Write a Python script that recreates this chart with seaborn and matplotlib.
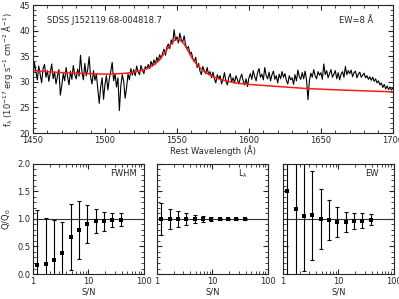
import numpy as np
import matplotlib
matplotlib.use("Agg")
import matplotlib.pyplot as plt
import seaborn as sns
from matplotlib.ticker import MultipleLocator, FixedLocator, NullFormatter

# -------------------------------
# Data
# -------------------------------
# spectrum, 1 A steps from 1450 to 1700
wave = list(range(1450, 1701))
flux = [
    31.2, 33.8, 32.0, 30.4, 33.1, 31.5, 29.8, 32.6, 33.4, 30.9,
    32.2, 30.1, 31.8, 33.5, 30.6, 31.9, 29.6, 31.2, 32.4, 27.4,
    29.3, 31.6, 30.2, 32.8, 31.0, 29.4, 32.1, 30.5, 33.2, 31.4,
    30.6, 32.5, 31.1, 35.2, 32.0, 30.4, 33.6, 31.2, 32.4, 34.9,
    31.0, 29.6, 32.2, 30.3, 31.5, 28.6, 25.8, 29.0, 30.8, 26.6,
    29.5, 31.2, 28.4, 30.6, 32.0, 33.8, 30.2, 31.6, 29.0, 30.8,
    24.4, 29.2, 31.4, 30.1, 26.8, 28.9, 31.5, 30.4, 32.6, 31.3,
    32.4, 31.2, 33.1, 32.0, 31.4, 33.2, 32.3, 31.6, 33.0, 32.5,
    33.4, 32.6, 34.0, 33.1, 34.3, 33.5, 34.8, 34.0, 35.3, 34.6,
    35.6, 36.4, 35.2, 36.8, 37.4, 36.5, 38.2, 37.4, 40.2, 38.1,
    38.8, 37.6, 39.5, 38.2, 37.8, 39.0, 37.2, 36.5, 36.9, 35.4,
    35.8, 34.6, 33.9, 34.8, 32.8, 33.6, 32.1, 31.4, 33.0, 32.2,
    31.6, 32.8, 31.4, 32.0, 30.8, 31.9, 30.6, 29.8, 31.4, 30.6,
    31.2, 29.6, 30.5, 31.8, 30.2, 29.4, 30.9, 31.6, 30.0, 30.8,
    29.8, 31.2, 30.4, 29.6, 30.8, 31.5, 30.2, 29.4, 30.6, 29.1,
    30.8, 31.6, 30.5, 32.2, 31.0, 30.2, 31.8, 32.6, 30.9, 31.5,
    30.4, 32.8, 31.2, 30.6, 31.9, 30.2, 31.4, 32.1, 30.5, 31.2,
    29.8, 31.5, 30.6, 32.0, 30.9, 31.6, 30.3, 29.6, 31.2, 30.4,
    30.8, 29.5, 31.4, 30.2, 32.3, 31.0, 30.5, 31.8, 30.6, 32.1,
    30.4, 26.5, 30.2, 31.7, 30.9, 32.4, 31.2, 30.6, 32.0, 31.3,
    31.8, 30.5, 33.5, 31.4, 32.2, 30.8, 31.6, 32.4, 30.9, 31.5,
    32.2, 30.6, 31.8, 30.4, 31.5, 32.0, 30.9, 33.0, 31.4, 32.2,
    31.6, 32.3, 31.0, 31.8, 32.1, 30.8, 31.5, 31.9, 30.9, 31.3,
    31.7, 30.8, 31.2, 30.5, 31.0, 30.3, 30.9, 30.1, 30.6, 29.8,
    30.2, 29.4, 29.8, 28.9, 29.5, 28.6, 29.2, 28.5, 29.0, 28.4,
    28.8,
]

# fitted model (red curve)
model_wave = [1450, 1460, 1470, 1480, 1490, 1500, 1510, 1515, 1520, 1525,
              1530, 1534, 1538, 1542, 1545, 1548, 1550, 1552, 1555, 1558,
              1561, 1564, 1567, 1570, 1575, 1580, 1590, 1600, 1620, 1640,
              1660, 1680, 1700]
model_flux = [32.2, 32.0, 31.8, 31.7, 31.6, 31.5, 31.6, 31.7, 31.9, 32.2,
              32.7, 33.3, 34.3, 35.9, 37.1, 38.1, 38.3, 38.2, 37.4, 35.9,
              34.4, 33.3, 32.5, 31.8, 31.0, 30.5, 29.8, 29.5, 29.1, 28.7,
              28.45, 28.25, 28.05]

# Monte Carlo recovery, Q/Q0 vs S/N
sn = [1.2, 1.7, 2.4, 3.4, 4.8, 6.8, 9.6, 13.5, 19, 27, 38]
fwhm_q = [0.16, 0.19, 0.26, 0.38, 0.68, 0.80, 0.91, 0.96, 0.96, 0.98, 0.99]
fwhm_err = [1.00, 0.83, 0.73, 0.57, 0.60, 0.52, 0.35, 0.22, 0.17, 0.13, 0.11]
lum_q = [1.00, 1.00, 1.00, 1.00, 1.00, 1.00, 1.00, 1.00, 1.00, 1.00, 1.00]
lum_err = [0.29, 0.18, 0.15, 0.11, 0.07, 0.05, 0.03, 0.02, 0.01, 0.01, 0.01]
ew_q = [1.51, 1.18, 1.05, 1.07, 1.00, 0.98, 0.95, 0.95, 0.96, 0.97, 0.99]
ew_err = [1.60, 1.30, 1.00, 0.81, 0.54, 0.36, 0.27, 0.18, 0.14, 0.14, 0.10]

panels = [("FWHM", fwhm_q, fwhm_err, 0.94),
          ("L$_\\lambda$", lum_q, lum_err, 0.82),
          ("EW", ew_q, ew_err, 0.86)]

# -------------------------------
# Style
# -------------------------------
sns.set_style("ticks")
plt.rcParams["font.family"] = ["DejaVu Sans"]
plt.rcParams["font.size"] = 6
plt.rcParams["mathtext.default"] = "regular"
plt.rcParams["xtick.direction"] = "in"
plt.rcParams["ytick.direction"] = "in"
plt.rcParams["xtick.top"] = True
plt.rcParams["ytick.right"] = True
plt.rcParams["xtick.major.size"] = 3.5
plt.rcParams["ytick.major.size"] = 3.5
plt.rcParams["xtick.minor.size"] = 2
plt.rcParams["ytick.minor.size"] = 2
plt.rcParams["xtick.major.pad"] = 2
plt.rcParams["ytick.major.pad"] = 2
plt.rcParams["axes.linewidth"] = 0.8

fig = plt.figure(figsize=(3.99, 2.99), dpi=100)

# -------------------------------
# Spectrum panel
# -------------------------------
ax0 = fig.add_axes([0.0827, 0.555, 0.902, 0.428])
sns.lineplot(x=wave, y=flux, ax=ax0, color="black", lw=0.8)
sns.lineplot(x=model_wave, y=model_flux, ax=ax0, color="#ff1a1a", lw=1.1)
ax0.set_xlim(1450, 1700)
ax0.set_ylim(20, 45)
ax0.xaxis.set_major_locator(MultipleLocator(50))
ax0.xaxis.set_minor_locator(MultipleLocator(10))
ax0.yaxis.set_major_locator(MultipleLocator(5))
ax0.yaxis.set_minor_locator(MultipleLocator(1))
ax0.set_xlabel("Rest Wavelength (Å)", labelpad=0)
ax0.set_ylabel("f$_\\lambda$ (10$^{-17}$ erg s$^{-1}$ cm$^{-2}$ Å$^{-1}$)", labelpad=3)
ax0.text(0.04, 0.88, "SDSS J152119.68-004818.7", transform=ax0.transAxes, va="center")
ax0.text(0.85, 0.88, "EW=8 Å", transform=ax0.transAxes, va="center")

# -------------------------------
# Q/Q0 panels
# -------------------------------
lefts = [0.0827, 0.3935, 0.709]
for i, (name, q, err, tx) in enumerate(panels):
    ax = fig.add_axes([lefts[i], 0.0836, 0.278, 0.368])
    ax.axhline(1.0, color="#333333", lw=0.8, zorder=1)
    ax.errorbar(sn, q, yerr=err, fmt="none", ecolor="black", elinewidth=0.8,
                capsize=1.6, capthick=0.8, zorder=2)
    sns.scatterplot(x=sn, y=q, ax=ax, marker="s", s=5, color="black",
                    edgecolor="black", linewidth=0, zorder=3)
    ax.set_xscale("log")
    ax.set_xlim(1, 100)
    ax.set_ylim(0, 2)
    ax.xaxis.set_major_locator(FixedLocator([1, 10, 100]))
    ax.set_xticklabels(["1", "10", "100"])
    ax.xaxis.set_minor_locator(FixedLocator([2, 3, 4, 5, 6, 7, 8, 9,
                                             20, 30, 40, 50, 60, 70, 80, 90]))
    ax.xaxis.set_minor_formatter(NullFormatter())
    ax.yaxis.set_major_locator(MultipleLocator(0.5))
    ax.yaxis.set_minor_locator(MultipleLocator(0.1))
    ax.set_xlabel("S/N", labelpad=1)
    if i == 0:
        ax.set_yticks([0, 0.5, 1.0, 1.5, 2.0], ["0.0", "0.5", "1.0", "1.5", "2.0"])
        ax.set_ylabel("Q/Q$_0$", labelpad=3)
    else:
        ax.set_yticklabels([])
    ax.text(tx, 0.91, name, transform=ax.transAxes, ha="right", va="center")

fig.savefig("out.png", dpi=100)
